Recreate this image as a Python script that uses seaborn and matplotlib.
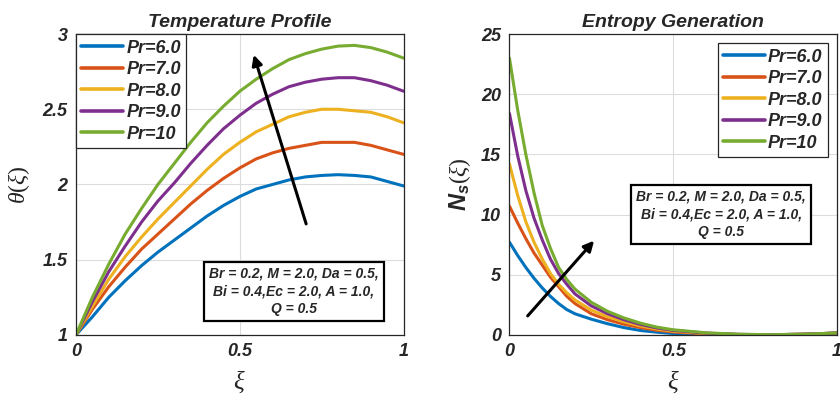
import pandas as pd
import matplotlib
matplotlib.use('Agg')
import matplotlib.pyplot as plt
import seaborn as sns

# curve labels and MATLAB default line colours
pr_labels = ['Pr=6.0', 'Pr=7.0', 'Pr=8.0', 'Pr=9.0', 'Pr=10']
line_colors = ['#0072BD', '#D95319', '#EDB120', '#7E2F8E', '#77AC30']

# temperature profile theta(xi)
xi_theta = [0, 0.05, 0.1, 0.15, 0.2, 0.25, 0.3, 0.35, 0.4, 0.45, 0.5,
            0.55, 0.6, 0.65, 0.7, 0.75, 0.8, 0.85, 0.9, 0.95, 1.0]
theta_pr6 = [1.00, 1.12, 1.25, 1.36, 1.46, 1.55, 1.63, 1.71, 1.79, 1.86, 1.92,
             1.97, 2.00, 2.03, 2.05, 2.06, 2.065, 2.06, 2.05, 2.02, 1.99]
theta_pr7 = [1.00, 1.17, 1.32, 1.45, 1.57, 1.67, 1.77, 1.87, 1.96, 2.04, 2.11,
             2.17, 2.21, 2.24, 2.26, 2.28, 2.28, 2.28, 2.26, 2.23, 2.20]
theta_pr8 = [1.00, 1.19, 1.37, 1.52, 1.65, 1.77, 1.88, 1.99, 2.10, 2.20, 2.28,
             2.35, 2.40, 2.45, 2.48, 2.50, 2.50, 2.49, 2.48, 2.45, 2.41]
theta_pr9 = [1.00, 1.22, 1.42, 1.59, 1.75, 1.89, 2.01, 2.14, 2.26, 2.37, 2.46,
             2.54, 2.60, 2.65, 2.68, 2.70, 2.71, 2.71, 2.69, 2.66, 2.62]
theta_pr10 = [1.00, 1.25, 1.47, 1.67, 1.84, 2.00, 2.14, 2.28, 2.41, 2.52, 2.62,
              2.70, 2.77, 2.83, 2.87, 2.90, 2.92, 2.925, 2.91, 2.88, 2.84]

# entropy generation Ns(xi)
xi_ns = [0, 0.025, 0.05, 0.075, 0.1, 0.125, 0.15, 0.175, 0.2, 0.25,
         0.3, 0.35, 0.4, 0.45, 0.5, 0.6, 0.7, 0.8, 0.9, 1.0]
ns_pr6 = [7.7, 6.6, 5.6, 4.7, 3.9, 3.2, 2.6, 2.1, 1.75, 1.3,
          0.92, 0.6, 0.36, 0.22, 0.11, 0.04, 0.01, 0.01, 0.05, 0.15]
ns_pr7 = [10.7, 9.3, 8.0, 6.8, 5.8, 4.8, 4.0, 3.2, 2.6, 1.75,
          1.25, 0.88, 0.6, 0.38, 0.24, 0.08, 0.02, 0.01, 0.05, 0.15]
ns_pr8 = [14.2, 11.6, 9.4, 7.7, 6.3, 5.1, 4.2, 3.5, 2.9, 2.05,
          1.5, 1.08, 0.74, 0.48, 0.31, 0.11, 0.03, 0.01, 0.05, 0.15]
ns_pr9 = [18.4, 14.9, 12.0, 9.7, 7.9, 6.3, 5.1, 4.2, 3.4, 2.4,
          1.75, 1.25, 0.86, 0.57, 0.37, 0.14, 0.04, 0.01, 0.05, 0.15]
ns_pr10 = [23.0, 18.7, 15.0, 11.8, 9.1, 7.2, 5.6, 4.6, 3.8, 2.7,
           1.95, 1.4, 0.97, 0.64, 0.42, 0.17, 0.05, 0.01, 0.05, 0.15]

info_text = 'Br = 0.2, M = 2.0, Da = 0.5,\nBi = 0.4,Ec = 2.0, A = 1.0,\nQ = 0.5'


def long_form(xs, series, col):
    frames = []
    for lab, ys in zip(pr_labels, series):
        frames.append(pd.DataFrame({'xi': xs, col: ys, 'Pr': lab}))
    return pd.concat(frames, ignore_index=True)


theta_df = long_form(xi_theta, [theta_pr6, theta_pr7, theta_pr8, theta_pr9, theta_pr10], 'theta')
ns_df = long_form(xi_ns, [ns_pr6, ns_pr7, ns_pr8, ns_pr9, ns_pr10], 'ns')

sns.set_theme(style='whitegrid')
plt.rcParams['font.family'] = ['Liberation Sans', 'DejaVu Sans']
plt.rcParams['font.weight'] = 'bold'
plt.rcParams['font.style'] = 'italic'
# thin serif italic for xi/theta, bold sans for N_s
plt.rcParams['mathtext.fontset'] = 'custom'
plt.rcParams['mathtext.rm'] = 'Liberation Serif:style=normal:weight=normal'
plt.rcParams['mathtext.it'] = 'Liberation Serif:style=italic:weight=normal'
plt.rcParams['mathtext.bf'] = 'Liberation Sans:style=italic:weight=bold'

fig = plt.figure(figsize=(8.4, 4.01), dpi=100)
ax1 = fig.add_axes([0.0905, 0.165, 0.390, 0.750])
ax2 = fig.add_axes([0.6065, 0.165, 0.390, 0.750])

sns.lineplot(data=theta_df, x='xi', y='theta', hue='Pr', palette=line_colors, lw=2.2, ax=ax1)
sns.lineplot(data=ns_df, x='xi', y='ns', hue='Pr', palette=line_colors, lw=2.2, ax=ax2)


def style_axes(ax, ylim, yticks, title):
    ax.set_xlim(0, 1)
    ax.set_ylim(*ylim)
    ax.set_xticks([0, 0.5, 1])
    ax.set_xticklabels(['0', '0.5', '1'])
    ax.set_yticks(yticks)
    ax.set_yticklabels([f'{t:g}' for t in yticks])
    ax.set_facecolor('white')
    ax.grid(True, color='#dcdcdc', lw=0.8)
    for sp in ax.spines.values():
        sp.set_color('#262626')
        sp.set_linewidth(0.9)
    ax.tick_params(direction='in', length=3, width=0.8, labelsize=13, pad=6, colors='#262626')
    ax.set_title(title, fontsize=14, fontweight='bold', fontstyle='italic', pad=5)


style_axes(ax1, (1, 3), [1, 1.5, 2, 2.5, 3], 'Temperature Profile')
style_axes(ax2, (0, 25), [0, 5, 10, 15, 20, 25], 'Entropy Generation')

ax1.set_xlabel(r'$\xi$', fontsize=18, labelpad=6)
ax1.set_ylabel(r'$\theta(\xi)$', fontsize=17, labelpad=8)
ax2.set_xlabel(r'$\xi$', fontsize=18, labelpad=6)
ax2.set_ylabel(r'$\mathbf{N}_{\mathbf{s}}(\xi)$', fontsize=17, labelpad=6)

leg_kw = dict(fontsize=13, frameon=True, fancybox=False, edgecolor='#262626', framealpha=1,
              handlelength=2.3, handletextpad=0.2, labelspacing=0.25, borderpad=0.3)
leg1 = ax1.legend(loc='upper left', borderaxespad=0, **leg_kw)
leg2 = ax2.legend(loc='upper right', borderaxespad=0.5, **leg_kw)
for leg in (leg1, leg2):
    leg.get_frame().set_linewidth(0.9)
    for h in leg.get_lines():
        h.set_linewidth(2.6)

box = dict(boxstyle='square,pad=0.35', facecolor='white', edgecolor='black', lw=1.6)
ax1.text(0.665, 1.29, info_text, ha='center', va='center', fontsize=10, linespacing=1.35, bbox=box)
ax2.text(0.646, 10.0, info_text, ha='center', va='center', fontsize=10, linespacing=1.35, bbox=box)

arrow = dict(arrowstyle='-|>', color='black', lw=2.2, mutation_scale=15)
ax1.annotate('', xy=(0.54, 2.88), xytext=(0.705, 1.72), arrowprops=arrow)
ax2.annotate('', xy=(0.264, 8.0), xytext=(0.05, 1.4), arrowprops=arrow)

fig.savefig('out.png', dpi=100)
